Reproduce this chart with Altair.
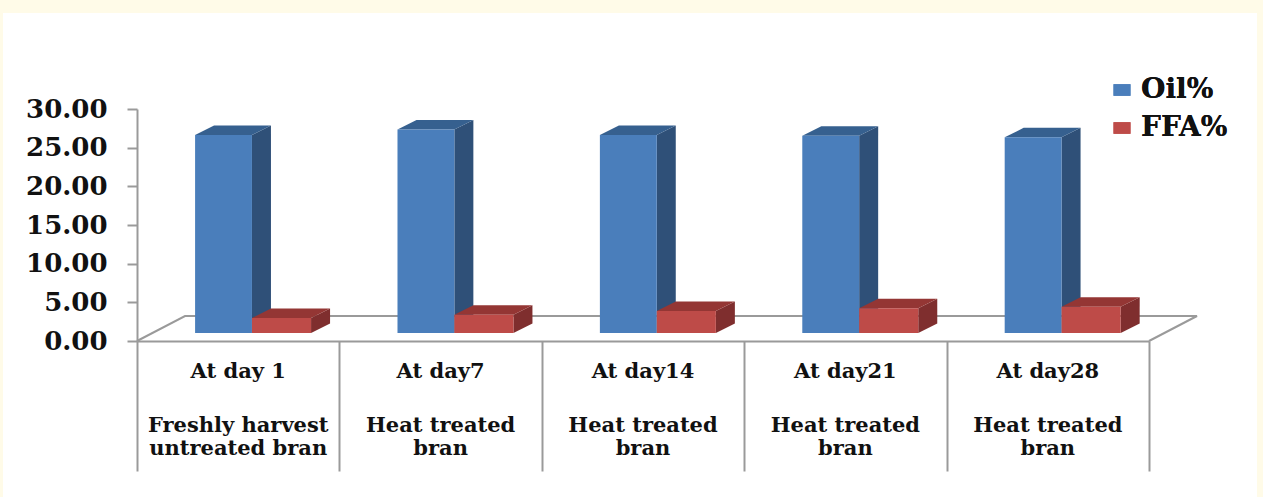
import altair as alt
import pandas as pd

# Chart values
categories = ["At day 1", "At day7", "At day14", "At day21", "At day28"]
treatment_first = ["Freshly harvest", "Heat treated", "Heat treated", "Heat treated", "Heat treated"]
treatment_second = ["untreated bran", "bran", "bran", "bran", "bran"]
oil_values = [25.6, 26.3, 25.6, 25.5, 25.3]
ffa_values = [1.95, 2.35, 2.85, 3.2, 3.4]
y_ticks = [0, 5, 10, 15, 20, 25, 30]

# Plot geometry in pixels, converted into scale units below
PLOT_W, PLOT_H = 1012, 232
PLOT_LEFT, PLOT_TOP = 137, 109
CAT_PX = PLOT_W / len(categories)
VAL_PX = PLOT_H / 30
FONT = "DejaVu Serif"
GREY = "#9a9a9a"

floor_dx, floor_dy = 48 / CAT_PX, 25 / VAL_PX
bar_dx, bar_dy = 19 / CAT_PX, 9.5 / VAL_PX
base = 8 / VAL_PX

series = [
    ("Oil%", oil_values, 0.287, 0.568, "#4a7ebb", "#2f5078", "#36608f"),
    ("FFA%", ffa_values, 0.568, 0.860, "#be4b48", "#7f2e2e", "#943634"),
]

# Front, side and top faces of each extruded bar
front, side, top = [], [], []
for name, values, left, right, c_front, c_side, c_top in series:
    for i, v in enumerate(values):
        x0, x1 = i + left, i + right
        y1 = base + v
        front.append(dict(series=name, x=x0, x2=x1, y=base, y2=y1))
        key = f"{name}-{i}"
        side += [
            dict(key=key, series=name, x=x1, y=base, y2=y1),
            dict(key=key, series=name, x=x1 + bar_dx, y=base + bar_dy, y2=y1 + bar_dy),
        ]
        top += [
            dict(key=key, series=name, y=y1, x=x0, x2=x1),
            dict(key=key, series=name, y=y1 + bar_dy, x=x0 + bar_dx, x2=x1 + bar_dx),
        ]

x_scale = alt.Scale(domain=[0, len(categories)], nice=False, zero=False)
y_scale = alt.Scale(domain=[0, 30], nice=False, zero=False)

# Value axis on the left, category separators hanging below the baseline
x_q = alt.X("x:Q", scale=x_scale, axis=alt.Axis(
    values=list(range(len(categories) + 1)), labels=False, title=None, grid=False, zindex=1,
    tickSize=130, tickWidth=2, tickColor=GREY, domainColor=GREY, domainWidth=2))
y_q = alt.Y("y:Q", scale=y_scale, axis=alt.Axis(
    values=y_ticks, format=".2f", title=None, grid=False, zindex=1, tickSize=10, tickWidth=2,
    tickColor=GREY, domainColor=GREY, domainWidth=2, labelFont=FONT, labelFontWeight="bold",
    labelFontSize=26, labelColor="#111111", labelPadding=20))

names = [s[0] for s in series]
front_colors = alt.Scale(domain=names, range=[s[4] for s in series])
side_colors = alt.Scale(domain=names, range=[s[5] for s in series])
top_colors = alt.Scale(domain=names, range=[s[6] for s in series])

# White sheet behind the chart, on the cream page
sheet = alt.Chart(pd.DataFrame({"a": [0]})).mark_rect(color="white").encode(
    x=alt.value(3 - PLOT_LEFT), x2=alt.value(1257 - PLOT_LEFT),
    y=alt.value(13 - PLOT_TOP), y2=alt.value(497 - PLOT_TOP),
)

# Floor outline of the 3D plot
n = len(categories)
floor = pd.DataFrame([
    dict(x=0, y=0), dict(x=floor_dx, y=floor_dy),
    dict(x=n + floor_dx, y=floor_dy), dict(x=n, y=0),
]).reset_index()
floor_line = alt.Chart(floor).mark_line(color=GREY, strokeWidth=2).encode(
    x=x_q, y=y_q, order="index:Q")

def bar_layers(name):
    f = [r for r in front if r["series"] == name]
    s = [r for r in side if r["series"] == name]
    t = [r for r in top if r["series"] == name]
    side_layer = alt.Chart(pd.DataFrame(s)).mark_area(orient="vertical").encode(
        x=x_q, y=y_q, y2="y2:Q", detail="key:N",
        color=alt.Color("series:N", scale=side_colors, legend=None))
    top_layer = alt.Chart(pd.DataFrame(t)).mark_area(orient="horizontal").encode(
        x=x_q, x2="x2:Q", y=y_q, detail="key:N",
        color=alt.Color("series:N", scale=top_colors, legend=None))
    front_layer = alt.Chart(pd.DataFrame(f)).mark_rect().encode(
        x=x_q, x2="x2:Q", y=y_q, y2="y2:Q",
        color=alt.Color("series:N", scale=front_colors, legend=alt.Legend(
            title=None, orient="none", legendX=1105 - PLOT_LEFT, legendY=73 - PLOT_TOP,
            symbolType="M-0.5,-0.34H0.5V0.34H-0.5Z", symbolSize=1156, symbolStrokeWidth=0,
            labelFont=FONT, labelFontWeight="bold", labelFontSize=28, labelColor="#111111",
            labelOffset=2, rowPadding=7, symbolOpacity=1)))
    return [side_layer, top_layer, front_layer]

# Category captions stacked under the baseline
captions = pd.DataFrame({
    "x": [i + 0.5 for i in range(n)],
    "day": categories, "first": treatment_first, "second": treatment_second,
})
def caption(field, y_px):
    return alt.Chart(captions).mark_text(
        font=FONT, fontWeight="bold", fontSize=21, color="#111111", align="center", baseline="middle"
    ).encode(x=x_q, y=alt.value(y_px - PLOT_TOP), text=f"{field}:N")

layers = [sheet, floor_line]
layers += bar_layers("Oil%") + bar_layers("FFA%")
layers += [caption("day", 372), caption("first", 426), caption("second", 449)]

chart = alt.layer(*layers).resolve_scale(color="independent").properties(
    width=PLOT_W, height=PLOT_H,
    background="#fffbe8",
    padding={"left": PLOT_LEFT, "top": PLOT_TOP, "right": 1263 - PLOT_LEFT - PLOT_W, "bottom": 497 - PLOT_TOP - PLOT_H},
    autosize=alt.AutoSizeParams(type="none"),
).configure_view(stroke=None)

chart.save("out.html", embed_options={"renderer": "svg", "actions": False})
